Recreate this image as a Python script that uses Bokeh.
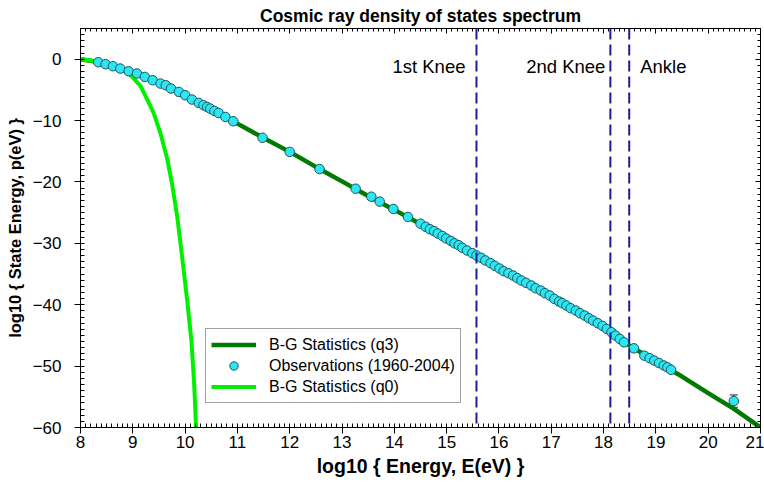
from bokeh.plotting import figure
from bokeh.models import (Span, Label, Legend, LegendItem, LinearAxis, Whisker,
                          ColumnDataSource, SingleIntervalTicker, Range1d, TeeHead,
                          CustomJSTickFormatter)
from bokeh.embed import file_html
from bokeh.resources import INLINE

# ---------------- data ----------------
q3_x = [8.0, 8.25, 8.5, 8.75, 9.0, 9.5, 10.0, 10.5, 11.0, 11.5, 12.0, 12.5, 13.0, 13.5,
        14.0, 14.5, 15.0, 15.5, 16.0, 16.5, 17.0, 17.5, 18.0, 18.5, 19.0, 19.5, 20.0, 20.5, 21.0]
q3_y = [0.0, -0.35, -0.85, -1.45, -2.15, -3.9, -5.85, -8.05, -10.5, -12.85, -15.1, -17.55, -19.9, -22.3,
        -24.55, -26.85, -29.2, -31.6, -34.05, -36.35, -38.7, -41.1, -43.55, -46.7, -49.2, -51.7, -54.4, -57.0, -60.0]

q0_x = [8.0, 8.38, 8.7, 8.96, 9.15, 9.3, 9.4, 9.53, 9.66, 9.75, 9.85, 9.94, 10.04, 10.12, 10.17, 10.21]
q0_y = [0.0, -0.4, -1.25, -2.6, -4.4, -7.0, -8.8, -12.1, -16.3, -20.3, -25.7, -32.0, -39.3, -45.8, -52.4, -60.0]

obs_x = [8.34, 8.48, 8.62, 8.76, 8.92, 9.08, 9.23, 9.38, 9.53, 9.63, 9.73, 9.88, 10.00, 10.13,
         10.26, 10.35, 10.42, 10.48, 10.56, 10.64, 10.77, 10.92, 11.48, 12.00, 12.57,
         13.26, 13.56, 13.72, 13.98, 14.26, 14.50, 14.60, 14.68, 14.76, 14.83, 14.92, 14.99,
         15.08, 15.15, 15.23, 15.30, 15.39, 15.49, 15.57, 15.66, 15.74, 15.84, 15.92, 16.01,
         16.09, 16.18, 16.27, 16.35, 16.43, 16.52, 16.62, 16.70, 16.80, 16.88, 16.97, 17.06,
         17.15, 17.21, 17.29, 17.37, 17.47, 17.55, 17.64, 17.72, 17.80, 17.89, 17.98, 18.06,
         18.15, 18.23, 18.31, 18.39, 18.58, 18.78, 18.88, 18.97, 19.06, 19.15, 19.22, 19.29,
         20.49]
obs_y = [-0.49, -0.82, -1.14, -1.52, -1.96, -2.33, -2.89, -3.43, -3.97, -4.24, -4.78, -5.33, -5.87, -6.57,
         -7.12, -7.50, -7.78, -8.05, -8.43, -8.76, -9.41, -10.11, -12.8, -15.1, -17.9,
         -21.1, -22.4, -23.2, -24.4, -25.7, -26.8, -27.3, -27.7, -28.0, -28.4, -28.8, -29.2,
         -29.6, -30.0, -30.3, -30.73, -31.16, -31.60, -31.98, -32.36, -32.79, -33.23, -33.66, -34.10,
         -34.53, -34.86, -35.24, -35.67, -36.06, -36.44, -36.87, -37.31, -37.69, -38.12, -38.50, -39.05,
         -39.48, -39.75, -40.13, -40.57, -40.95, -41.38, -41.77, -42.20, -42.58, -43.02, -43.45, -43.94,
         -44.48, -45.03, -45.57, -46.12, -47.1, -48.3, -48.7, -49.1, -49.5, -49.9, -50.2, -50.6,
         -55.7]

err_x = [20.49]
err_lower = [-56.7]
err_upper = [-54.7]

knee_x = [15.57, 18.13, 18.49]
knee_labels = ["1st Knee", "2nd Knee", "Ankle"]

x_range = (8, 21)
y_range = (-60, 5)

FONT = "Liberation Sans"

# ---------------- figure ----------------
p = figure(width=764, height=495, output_backend="svg", toolbar_location=None,
           x_range=Range1d(*x_range), y_range=Range1d(*y_range),
           min_border_left=80, min_border_right=4, min_border_top=28, min_border_bottom=68,
           x_axis_label="log10 { Energy, E(eV) }",
           y_axis_label="log10 { State Energy, p(eV) }")
p.grid.visible = False
p.outline_line_color = "black"
p.background_fill_color = "white"
p.border_fill_color = "white"

p.title.text = "Cosmic ray density of states spectrum"
p.title.align = "center"
p.title.text_font = FONT
p.title.text_font_size = "17.5px"
p.title.text_font_style = "bold"
p.title.text_color = "black"
p.title.standoff = 6

xt = SingleIntervalTicker(interval=1, num_minor_ticks=10)
yt = SingleIntervalTicker(interval=10, num_minor_ticks=10)

for ax, t in ((p.xaxis[0], xt), (p.yaxis[0], yt)):
    ax.ticker = t
    ax.axis_line_color = "black"
    ax.major_tick_line_color = "black"
    ax.minor_tick_line_color = "black"
    ax.major_tick_out = 6
    ax.major_tick_in = 0
    ax.minor_tick_out = 0
    ax.minor_tick_in = 4
    ax.major_label_text_font = FONT
    ax.major_label_text_font_size = "17px"
    ax.major_label_text_color = "black"
    ax.axis_label_text_font = FONT
    ax.axis_label_text_font_style = "bold"
    ax.axis_label_text_color = "black"

p.xaxis[0].axis_label_text_font_size = "19.5px"
p.yaxis[0].axis_label_text_font_size = "16.5px"
p.xaxis[0].major_label_standoff = 2
p.xaxis[0].axis_label_standoff = 4
p.yaxis[0].major_label_standoff = 13
p.yaxis[0].axis_label_standoff = 6

blank = CustomJSTickFormatter(code="return '';")
top_ax = LinearAxis(ticker=SingleIntervalTicker(interval=1, num_minor_ticks=10),
                    formatter=blank, major_label_standoff=0,
                    major_tick_in=5, major_tick_out=0, minor_tick_in=3, minor_tick_out=0,
                    axis_line_color="black")
right_ax = LinearAxis(ticker=SingleIntervalTicker(interval=10, num_minor_ticks=10),
                      formatter=blank, major_label_standoff=0,
                      major_tick_in=5, major_tick_out=0, minor_tick_in=3, minor_tick_out=0,
                      axis_line_color="black")
p.add_layout(top_ax, "above")
p.add_layout(right_ax, "right")

# ---------------- glyphs ----------------
r_q3 = p.line(q3_x, q3_y, line_color="#007A00", line_width=4.5)
r_q0 = p.line(q0_x, q0_y, line_color="#00F000", line_width=4)

err_src = ColumnDataSource(dict(base=err_x, lower=err_lower, upper=err_upper))
p.add_layout(Whisker(source=err_src, base="base", lower="lower", upper="upper",
                     line_color="#222222", line_width=1,
                     upper_head=TeeHead(size=8, line_color="#222222", line_width=1),
                     lower_head=TeeHead(size=8, line_color="#222222", line_width=1)))

r_obs = p.scatter(obs_x, obs_y, size=9.5, fill_color="#2CE6F2", line_color="#1E5561", line_width=1)

for xv in knee_x:
    p.add_layout(Span(location=xv, dimension="height", line_color="#1C1C9C",
                      line_width=2, line_dash="11 5"))

label_y = -1.2
offsets = [(-11, "right"), (-5, "right"), (11, "left")]
for xv, txt, (off, al) in zip(knee_x, knee_labels, offsets):
    p.add_layout(Label(x=xv, y=label_y, text=txt, x_offset=off, text_align=al,
                       text_baseline="middle", text_font=FONT, text_font_size="18.5px",
                       text_color="black"))

legend = Legend(items=[LegendItem(label="B-G Statistics (q3)", renderers=[r_q3]),
                       LegendItem(label="Observations (1960-2004)", renderers=[r_obs]),
                       LegendItem(label="B-G Statistics (q0)", renderers=[r_q0])],
                location=(125, 24), border_line_color="#444444", border_line_width=1,
                background_fill_color="white", background_fill_alpha=1.0,
                glyph_width=45, glyph_height=21, label_height=21, spacing=0, padding=5,
                label_standoff=13, label_text_font=FONT, label_text_font_size="16px",
                label_text_color="black", margin=0)
p.add_layout(legend, "center")

open("out.html", "w").write(file_html(p, INLINE))
